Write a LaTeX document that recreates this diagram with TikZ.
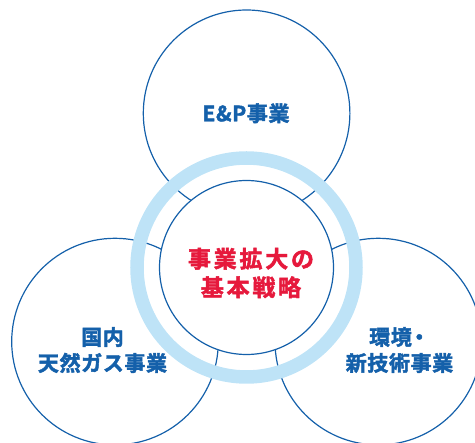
\documentclass[tikz,border=0pt]{standalone}
\usepackage{fontspec}
\newfontfamily\cjk{Noto Sans CJK JP Bold}[LetterSpace=3,FakeBold=2]
\newfontfamily\cjkred{Noto Sans CJK JP Bold}[LetterSpace=12,FakeBold=2]
\definecolor{dblue}{HTML}{1460AA}
\definecolor{lblue}{HTML}{BEE3F7}
\definecolor{myred}{HTML}{E6193C}
\tikzset{
  outer/.style={draw=dblue, line width=1.2pt, circle, minimum size=206.6pt, inner sep=0pt},
  bluetext/.style={text=dblue, font=\cjk\fontsize{21}{26}\selectfont, align=center},
}
\begin{document}
\begin{tikzpicture}[x=1pt,y=-1pt]
\useasboundingbox (0,0) rectangle (475,443);
\begin{scope}
\clip (0,0) rectangle (475,443);
\node[outer] (top) at (246.6,113.3) {};
\node[outer] (left) at (115,341.6) {};
\node[outer] (right) at (378.3,341.6) {};
\node[circle, draw=lblue, line width=13.5pt, minimum size=219pt, inner sep=0pt] (ring) at (246.5,267.5) {};
\node[circle, draw=dblue, fill=white, line width=1.2pt, minimum size=174pt, inner sep=0pt] (core) at (246.5,267.5) {};
\end{scope}
\node[bluetext] (tt) at (246,113.3) {E\&P事業};
\node[text=myred, font=\cjkred\fontsize{23}{28.5}\selectfont, align=center] (ct) at (251,273) {事業拡大の\\基本戦略};
\node[bluetext] (lt) at (102.5,350) {国内\\天然ガス事業};
\node[bluetext] (rt) at (399.5,350) {環境\hspace{-3pt}・\\新技術事業};
\end{tikzpicture}
\end{document}
